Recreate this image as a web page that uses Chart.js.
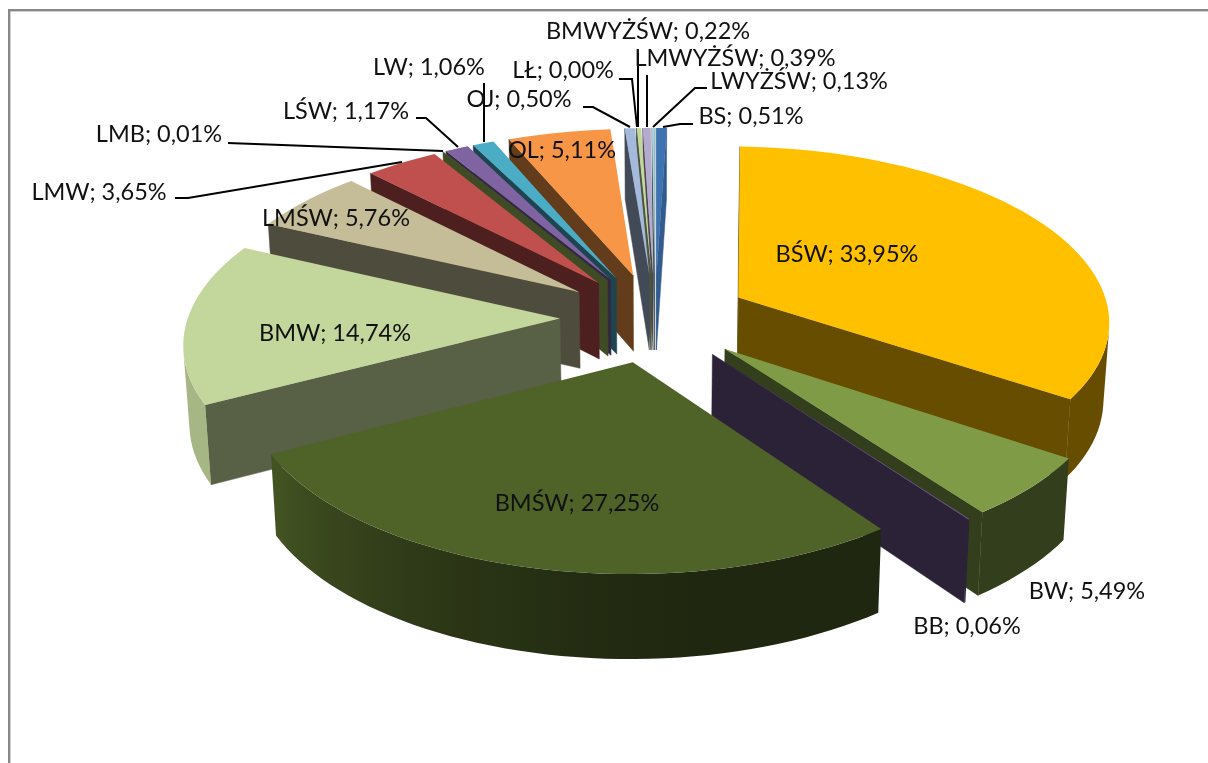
<!DOCTYPE html>
<html><head><meta charset="utf-8">
<style>html,body{margin:0;padding:0;background:#fff}canvas{display:block}</style>
<script src="https://cdn.jsdelivr.net/npm/chart.js"></script></head>
<body><canvas id="c" width="1208" height="763"></canvas>
<script>
const categories=['BS','BŚW','BW','BB','BMŚW','BMW','LMŚW','LMW','LMB','LŚW','LW','OL','OJ','LŁ','BMWYŻŚW','LMWYŻŚW','LWYŻŚW'];
const shares=[0.51,33.95,5.49,0.06,27.25,14.74,5.76,3.65,0.01,1.17,1.06,5.11,0.50,0.00,0.22,0.39,0.13];
const colors=[[62,115,178],[255,192,0],[127,155,70],[108,84,140],[79,98,40],[195,214,155],[196,189,151],[192,80,77],[155,187,89],[128,100,162],[75,172,198],[247,150,70],[165,185,220],[195,214,155],[195,214,155],[180,170,205],[165,215,225]];
const labelPos=[[751,116],[847,254],[1087,591],[967,626],[577,503],[335,333],[336,218],[99,192],[159,134],[346,111],[429,67],[562,150],[519,99],[563,70],[648,31],[735,58],[799,81]];
const leaders=[[[693,124],[680,124],[663,127]],null,null,null,null,null,null,[[175,198],[188,198],[402,162]],[[228,143],[443,151]],[[416,118],[426,118],[458,147]],[[484,83],[484,142]],null,[[583,107],[593,107],[630,127]],[[619,79],[632,79],[637,127]],[[638,53],[638,127]],[[647,75],[647,127]],[[707,88],[695,88],[653,127]]];
const EXPLODE=95,KP=0.154/469,B=0.468,DEPTH=77,SHRINK=0.987;
function project(a,u,v){const s=1/(1-KP*v);return {x:a.x+u*s,y:a.y+B*v*s,s};}
function lower(a,p){return {x:a.x+(p.x-a.x)*SHRINK,y:p.y+DEPTH*Math.pow(p.s,0.6)};}
function shade(c,f){return 'rgb('+c.map(n=>Math.round(n*f)).join(',')+')';}
function rimFactor(deg){const t=Math.max(0,Math.min(1,(deg-170)/70));return 0.4+0.45*Math.pow(t,1.5);}
function wallFactor(deg){if(deg<20)return 0.8;return deg>200&&deg<300?0.45:0.4;}
function signedArea(pts){let s=0;pts.forEach((m,i)=>{const n=pts[(i+1)%pts.length];s+=m.x*n.y-n.x*m.y;});return s;}
function path(ctx,pts){ctx.beginPath();pts.forEach((m,i)=>i?ctx.lineTo(m.x,m.y):ctx.moveTo(m.x,m.y));ctx.closePath();}
function quad(ctx,p,q,a,col){
  const pts=[p,q,lower(a,q),lower(a,p)];
  if(signedArea(pts)>=0)return;
  path(ctx,pts);ctx.fillStyle=col;ctx.strokeStyle=col;ctx.lineWidth=0.5;ctx.fill();ctx.stroke();
}
function rimWall(ctx,a,rim,angles,c){
  let run=[];
  const flush=()=>{
    if(!run.length)return;
    const top=rim.slice(run[0],run[run.length-1]+2),bot=top.map(p=>lower(a,p)).reverse(),pts=top.concat(bot);
    const xs=pts.map(p=>p.x),x0=Math.min(...xs),x1=Math.max(...xs);
    const g=ctx.createLinearGradient(x0,0,x1,0);
    run.forEach(k=>{const o=(rim[k].x-x0)/(x1-x0||1);g.addColorStop(Math.max(0,Math.min(1,o)),shade(c,rimFactor(angles[k])));});
    path(ctx,pts);ctx.fillStyle=g;ctx.fill();run=[];
  };
  for(let k=0;k<rim.length-1;k++){
    const p=rim[k],q=rim[k+1];
    if(signedArea([p,q,lower(a,q),lower(a,p)])<0)run.push(k);else flush();
  }
  flush();
}
const pie3d={id:'pie3d',
  beforeDatasetsDraw(chart){
    const ctx=chart.ctx,arcs=chart.getDatasetMeta(0).data;
    ctx.save();
    ctx.fillStyle='#888';ctx.fillRect(8,9,1200,2.4);ctx.fillRect(8,9,2.4,754);
    const order=arcs.map((a,i)=>i).sort((i,j)=>{
      const mi=(arcs[i].startAngle+arcs[i].endAngle)/2+Math.PI/2,mj=(arcs[j].startAngle+arcs[j].endAngle)/2+Math.PI/2;
      return -Math.cos(mi)+Math.cos(mj);});
    order.forEach(i=>{
      const a=arcs[i],t1=a.startAngle+Math.PI/2,t2=a.endAngle+Math.PI/2,m=(t1+t2)/2,R=a.outerRadius,c=colors[i];
      const ex=EXPLODE*Math.sin(m),ey=-EXPLODE*Math.cos(m);
      const tip=project(a,ex,ey),rim=[],angles=[];
      const n=Math.max(2,Math.ceil((t2-t1)/(Math.PI/90)));
      for(let k=0;k<=n;k++){const t=t1+(t2-t1)*k/n;rim.push(project(a,ex+R*Math.sin(t),ey-R*Math.cos(t)));angles.push(t*180/Math.PI);}
      const wf=wallFactor(t2*180/Math.PI);
      quad(ctx,tip,rim[0],a,shade(c,wf));
      quad(ctx,rim[n],tip,a,shade(c,wf));
      rimWall(ctx,a,rim,angles,c);
      path(ctx,[tip].concat(rim));
      ctx.fillStyle=shade(c,1);ctx.fill();
    });
    ctx.restore();
    return false;
  },
  afterDraw(chart){
    const ctx=chart.ctx;ctx.save();
    ctx.strokeStyle='#000';ctx.lineWidth=2;
    leaders.forEach(l=>{if(!l)return;ctx.beginPath();l.forEach((p,i)=>i?ctx.lineTo(p[0],p[1]):ctx.moveTo(p[0],p[1]));ctx.stroke();});
    ctx.fillStyle='#111';ctx.font='23.5px Lato';ctx.textAlign='center';ctx.textBaseline='middle';
    categories.forEach((n,i)=>{ctx.fillText(n+'; '+shares[i].toFixed(2).replace('.',',')+'%',labelPos[i][0],labelPos[i][1]);});
    ctx.restore();
  }};
new Chart(document.getElementById('c'),{type:'pie',
  data:{labels:categories,datasets:[{data:shares,backgroundColor:colors.map(c=>shade(c,1)),radius:372,borderWidth:0}]},
  options:{responsive:false,animation:false,layout:{padding:{left:102,bottom:128}},plugins:{legend:{display:false},tooltip:{enabled:false}}},
  plugins:[pie3d]});
</script></body></html>
